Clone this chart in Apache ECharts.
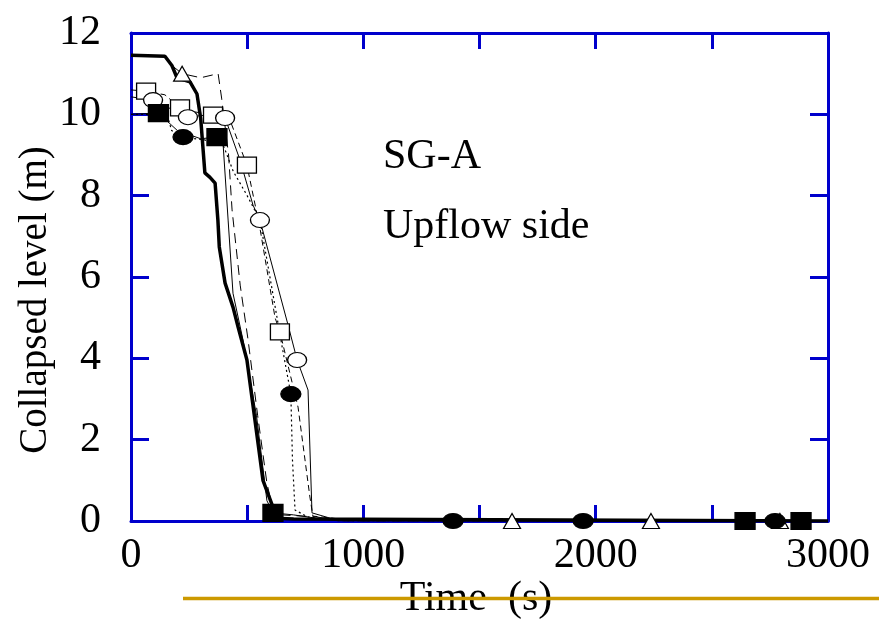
<!DOCTYPE html>
<html>
<head>
<meta charset="utf-8">
<script src="https://cdn.jsdelivr.net/npm/echarts@6/dist/echarts.min.js"></script>
<style>html,body{margin:0;padding:0;background:#fff;}#c{width:879px;height:622px;}</style>
</head>
<body>
<div id="c"></div>
<script>
// ---- data (time s, collapsed level m) ----
const xTickLabels = ['0', '1000', '2000', '3000'];
const yTickLabels = ['0', '2', '4', '6', '8', '10', '12'];

const thickT = [0, 146, 176, 198, 254, 284, 300, 318, 340, 362, 374, 380, 405, 439, 461, 499, 568, 611, 620, 700, 3000];
const thickL = [11.45, 11.43, 11.2, 10.9, 10.8, 10.5, 9.9, 8.56, 8.45, 8.31, 7.4, 6.74, 5.85, 5.26, 4.77, 3.96, 1.0, 0.34, 0.07, 0.05, 0];

const sqT = [0, 65, 146, 211, 275, 353, 426, 499, 555, 620, 641, 719, 770, 783, 900, 3000];
const sqL = [10.6, 10.57, 10.48, 10.16, 10.06, 9.98, 9.86, 8.75, 7.2, 5.0, 4.65, 2.8, 0.59, 0.12, 0.05, 0];
const sqMarkT = [65, 211, 353, 499, 641];
const sqMarkL = [10.57, 10.16, 9.98, 8.75, 4.65];

const ciT = [0, 95, 245, 318, 405, 469, 525, 555, 676, 715, 762, 779, 857, 986, 3000];
const ciL = [10.43, 10.35, 9.93, 9.98, 9.91, 8.88, 7.77, 7.4, 4.82, 3.96, 3.22, 0.2, 0.07, 0, 0];
const ciMarkT = [95, 245, 405, 555, 715];
const ciMarkL = [10.35, 9.93, 9.91, 7.4, 3.96];

const fsT = [0, 118, 200, 300, 370, 396, 418, 439, 482, 540, 585, 611, 700, 820, 900, 3000];
const fsL = [10.0, 10.03, 9.6, 9.4, 9.44, 9.3, 7.4, 5.6, 4.45, 2.6, 0.5, 0.2, 0.15, 0.05, 0, 0];
const fsMarkT = [118, 370, 611, 2643, 2884];
const fsMarkL = [10.03, 9.44, 0.2, 0, 0];

const fcT = [0, 118, 160, 175, 224, 318, 400, 440, 500, 555, 650, 688, 695, 706, 760, 900, 3000];
const fcL = [10.0, 10.0, 9.9, 9.6, 9.44, 9.37, 9.2, 8.6, 8.0, 7.4, 4.3, 3.12, 1.5, 0.27, 0.1, 0, 0];
const fcMarkT = [224, 688, 1386, 1946, 2772];
const fcMarkL = [9.44, 3.12, 0, 0, 0];

const trT = [0, 146, 176, 220, 300, 375, 390, 420, 435, 470, 504, 545, 585, 610, 650, 800, 900, 3000];
const trL = [11.45, 11.43, 11.2, 11.0, 10.9, 11.0, 10.4, 9.0, 7.65, 5.8, 4.45, 2.6, 0.93, 0.3, 0.15, 0.1, 0, 0];
const trMarkT = [220, 1640, 2238, 2793];
const trMarkL = [11.0, 0, 0, 0];

const zip = (a, b) => a.map((v, i) => [v, b[i]]);
const BLUE = '#0000CC';
const FONT = "'Liberation Serif', 'Times New Roman', serif";

function lineS(t, l, width, type) {
  return { type: 'line', data: zip(t, l), symbol: 'none', z: 3,
    lineStyle: { color: '#000', width: width, type: type } };
}
function markS(t, l, symbol, size, filled) {
  return { type: 'scatter', data: zip(t, l), symbol: symbol, symbolSize: size, z: 5,
    itemStyle: { color: filled ? '#000' : '#fff', borderColor: '#000', borderWidth: 1.2, opacity: 1 } };
}

const chart = echarts.init(document.getElementById('c'), null, { renderer: 'canvas' });
const grid = { left: 131, right: 51, top: 33, bottom: 101 };
const tickStyle = { color: BLUE, width: 3 };
chart.setOption({
  animation: false,
  backgroundColor: '#fff',
  grid: grid,
  xAxis: [
    { type: 'value', min: 0, max: 3000, interval: 500, position: 'bottom',
      axisLine: { show: true, onZero: false, lineStyle: { color: BLUE, width: 3 } },
      axisTick: { show: true, inside: true, length: 16, lineStyle: tickStyle },
      axisLabel: { color: '#000', fontFamily: FONT, fontSize: 42, margin: 14,
        formatter: v => (xTickLabels.indexOf(String(v)) >= 0 ? String(v) : '') },
      splitLine: { show: false } },
    { type: 'value', min: 0, max: 3000, interval: 500, position: 'top',
      axisLine: { show: true, onZero: false, lineStyle: { color: BLUE, width: 3 } },
      axisTick: { show: true, inside: true, length: 16, lineStyle: tickStyle },
      axisLabel: { show: false }, splitLine: { show: false } }
  ],
  yAxis: [
    { type: 'value', min: 0, max: 12, interval: 2, position: 'left',
      axisLine: { show: true, onZero: false, lineStyle: { color: BLUE, width: 3 } },
      axisTick: { show: true, inside: true, length: 18, lineStyle: tickStyle },
      axisLabel: { color: '#000', fontFamily: FONT, fontSize: 42, margin: 30,
        formatter: v => (yTickLabels.indexOf(String(v)) >= 0 ? String(v) : '') },
      splitLine: { show: false } },
    { type: 'value', min: 0, max: 12, interval: 2, position: 'right',
      axisLine: { show: true, onZero: false, lineStyle: { color: BLUE, width: 3 } },
      axisTick: { show: true, inside: true, length: 18, lineStyle: tickStyle },
      axisLabel: { show: false }, splitLine: { show: false } }
  ],
  series: [
    lineS(sqT, sqL, 1, [6, 4]),
    lineS(ciT, ciL, 1, 'solid'),
    lineS(fsT, fsL, 1, 'solid'),
    lineS(fcT, fcL, 1.2, [2, 3]),
    lineS(trT, trL, 1, [10, 6]),
    lineS(thickT, thickL, 3.5, 'solid'),
    markS(sqMarkT, sqMarkL, 'rect', [19, 16], false),
    markS(ciMarkT, ciMarkL, 'circle', [19, 15], false),
    markS(trMarkT, trMarkL, 'triangle', [17, 15], false),
    markS(fsMarkT, fsMarkL, 'rect', [20, 17], true),
    markS(fcMarkT, fcMarkL, 'circle', [20, 15], true)
  ],
  graphic: [
    { type: 'text', x: 383, y: 157, z: 10,
      style: { text: 'SG-A', fontFamily: FONT, fontSize: 42, fill: '#000', align: 'left', verticalAlign: 'middle' } },
    { type: 'text', x: 383, y: 227, z: 10,
      style: { text: 'Upflow side', fontFamily: FONT, fontSize: 42, fill: '#000', align: 'left', verticalAlign: 'middle' } },
    { type: 'text', x: 36, y: 300, rotation: Math.PI / 2, z: 10,
      style: { text: 'Collapsed level (m)', fontFamily: FONT, fontSize: 39, fill: '#000', align: 'center', verticalAlign: 'middle' } },
    { type: 'text', x: 476, y: 599, z: 10,
      style: { text: 'Time  (s)', fontFamily: FONT, fontSize: 42, fill: '#000', align: 'center', verticalAlign: 'middle' } },
    { type: 'line', z: 11, shape: { x1: 183, y1: 598.5, x2: 879, y2: 598.5 },
      style: { stroke: '#CC9900', lineWidth: 3.5 } }
  ]
});
</script>
</body>
</html>
